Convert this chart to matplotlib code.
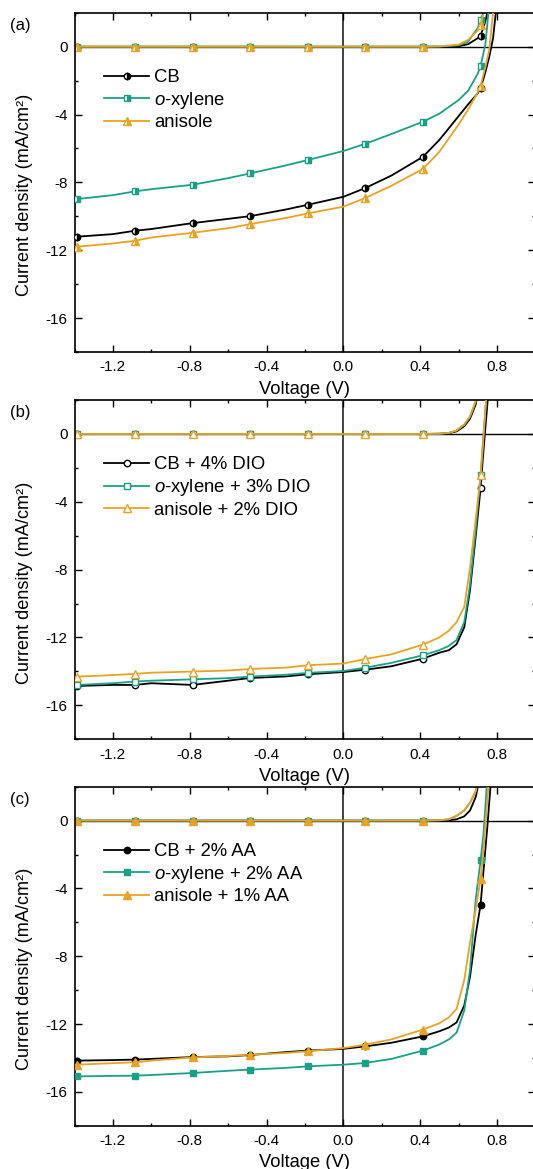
import matplotlib
matplotlib.use("Agg")
import matplotlib.pyplot as plt
from matplotlib.ticker import FixedLocator, MultipleLocator, FormatStrFormatter

plt.rcParams["font.family"] = ["Liberation Sans", "DejaVu Sans"]
plt.rcParams["axes.unicode_minus"] = False
plt.rcParams["mathtext.fontset"] = "custom"
plt.rcParams["mathtext.it"] = "Liberation Sans:italic"
plt.rcParams["mathtext.rm"] = "Liberation Sans"

BLACK = "#000000"
TEAL = "#19a087"
ORANGE = "#e8a224"

# voltage positions of the symbols on every curve
V_MARK = [-1.385, -1.085, -0.785, -0.485, -0.185, 0.115, 0.415, 0.715]

# ---- (a) pristine solvents ----
V_A = [-1.4, -1.385, -1.2, -1.085, -1.0, -0.785, -0.6, -0.485, -0.3, -0.185,
       0.0, 0.115, 0.25, 0.415, 0.5, 0.6, 0.65, 0.7, 0.715, 0.74, 0.76, 0.78, 0.8]
J_A_CB = [-11.2, -11.2, -11.05, -10.85, -10.75, -10.4, -10.15, -9.99, -9.6, -9.32,
          -8.85, -8.33, -7.6, -6.49, -5.5, -4.1, -3.4, -2.75, -2.45, -1.5, -0.6, 0.5, 2.6]
J_A_OX = [-9.0, -8.98, -8.75, -8.53, -8.4, -8.14, -7.75, -7.47, -7.0, -6.68,
          -6.15, -5.72, -5.15, -4.42, -3.95, -3.15, -2.6, -1.6, -1.14, 0.15, 2.5, 5.0, 7.0]
J_A_AN = [-11.8, -11.79, -11.6, -11.44, -11.25, -10.97, -10.7, -10.46, -10.1, -9.83,
          -9.43, -8.92, -8.2, -7.21, -6.2, -4.6, -3.7, -2.7, -2.32, -1.2, -0.2, 2.0, 4.0]
D_A_CB = [0.0, 0.0, 0.0, 0.0, 0.0, 0.0, 0.0, 0.0, 0.0, 0.0,
          0.0, 0.0, 0.0, 0.0, 0.0, 0.03, 0.15, 0.5, 0.65, 1.5, 2.5, 4.0, 6.0]
D_A_OX = [0.0, 0.0, 0.0, 0.0, 0.0, 0.0, 0.0, 0.0, 0.0, 0.0,
          0.0, 0.0, 0.0, 0.0, 0.01, 0.08, 0.3, 1.1, 1.6, 2.3, 4.0, 6.0, 8.0]
D_A_AN = [0.0, 0.0, 0.0, 0.0, 0.0, 0.0, 0.0, 0.0, 0.0, 0.0,
          0.0, 0.0, 0.0, 0.0, 0.02, 0.12, 0.4, 0.95, 1.3, 2.4, 4.0, 6.0, 8.0]

# ---- (b) with DIO ----
V_B = [-1.4, -1.385, -1.2, -1.085, -1.0, -0.785, -0.6, -0.485, -0.3, -0.185,
       0.0, 0.115, 0.25, 0.415, 0.5, 0.55, 0.59, 0.63, 0.66, 0.69, 0.715, 0.73, 0.75, 0.77]
J_B_CB = [-14.9, -14.86, -14.8, -14.8, -14.7, -14.8, -14.55, -14.39, -14.3, -14.17,
          -14.04, -13.9, -13.7, -13.25, -12.9, -12.75, -12.4, -11.4, -9.2, -6.0, -3.2, -1.0, 1.7, 4.5]
J_B_OX = [-14.85, -14.8, -14.7, -14.6, -14.55, -14.47, -14.4, -14.31, -14.2, -14.09,
          -13.98, -13.78, -13.5, -13.05, -12.75, -12.5, -12.15, -11.1, -8.9, -5.6, -2.45, -0.1, 3.0, 6.0]
J_B_AN = [-14.35, -14.31, -14.22, -14.15, -14.08, -14.01, -13.95, -13.86, -13.78, -13.64,
          -13.54, -13.27, -13.0, -12.42, -12.0, -11.6, -11.1, -10.2, -7.9, -5.0, -2.45, -0.2, 3.0, 6.0]
D_B_CB = [0.0, 0.0, 0.0, 0.0, 0.0, 0.0, 0.0, 0.0, 0.0, 0.0,
          0.0, 0.0, 0.0, 0.0, 0.01, 0.04, 0.15, 0.45, 0.9, 1.75, 3.4, 5.0, 7.0, 9.0]
D_B_OX = [0.0, 0.0, 0.0, 0.0, 0.0, 0.0, 0.0, 0.0, 0.0, 0.0,
          0.0, 0.0, 0.0, 0.0, 0.01, 0.06, 0.2, 0.55, 1.0, 1.9, 3.5, 5.0, 7.0, 9.0]
D_B_AN = [0.0, 0.0, 0.0, 0.0, 0.0, 0.0, 0.0, 0.0, 0.0, 0.0,
          0.0, 0.0, 0.0, 0.0, 0.01, 0.06, 0.2, 0.55, 1.05, 1.95, 3.5, 5.0, 7.0, 9.0]

# ---- (c) with AA ----
V_C = V_B
J_C_CB = [-14.2, -14.15, -14.12, -14.09, -14.05, -13.94, -13.9, -13.82, -13.65, -13.56,
          -13.46, -13.31, -13.1, -12.72, -12.42, -12.2, -11.9, -10.9, -9.2, -6.7, -4.95, -3.0, -0.4, 2.5]
J_C_OX = [-15.1, -15.08, -15.05, -15.04, -15.0, -14.88, -14.75, -14.68, -14.58, -14.49,
          -14.39, -14.29, -14.05, -13.56, -13.2, -12.9, -12.5, -11.2, -8.8, -4.6, -2.35, -0.8, 2.5, 6.0]
J_C_AN = [-14.4, -14.39, -14.3, -14.25, -14.15, -13.96, -13.88, -13.8, -13.7, -13.6,
          -13.41, -13.21, -12.9, -12.32, -11.95, -11.6, -11.1, -9.4, -7.2, -5.2, -3.45, -1.7, 1.2, 4.0]
D_C_CB = [0.0, 0.0, 0.0, 0.0, 0.0, 0.0, 0.0, 0.0, 0.0, 0.0,
          0.0, 0.0, 0.0, 0.0, 0.0, 0.02, 0.08, 0.25, 0.6, 1.4, 2.8, 4.5, 7.0, 9.0]
D_C_OX = [0.0, 0.0, 0.0, 0.0, 0.0, 0.0, 0.0, 0.0, 0.0, 0.0,
          0.0, 0.0, 0.0, 0.0, 0.02, 0.08, 0.28, 0.6, 1.05, 1.75, 3.0, 4.5, 7.0, 9.0]
D_C_AN = [0.0, 0.0, 0.0, 0.0, 0.0, 0.0, 0.0, 0.0, 0.0, 0.0,
          0.0, 0.0, 0.0, 0.0, 0.02, 0.08, 0.28, 0.6, 1.05, 1.75, 3.0, 4.5, 7.0, 9.0]

LABELS_A = ["CB", r"$\mathit{o}$-xylene", "anisole"]
LABELS_B = ["CB + 4% DIO", r"$\mathit{o}$-xylene + 3% DIO", "anisole + 2% DIO"]
LABELS_C = ["CB + 2% AA", r"$\mathit{o}$-xylene + 2% AA", "anisole + 1% AA"]

XTICKS = [-1.2, -0.8, -0.4, 0.0, 0.4, 0.8]
YTICKS = [-16, -12, -8, -4, 0]

fig = plt.figure(figsize=(5.33, 11.69), dpi=100)
W, H = 533.0, 1169.0
AX_H = 339.2


def panel(top_px, V, light, dark, labels, fill, tag):
    ax = fig.add_axes([74.5 / W, 1 - (top_px + AX_H) / H, 460.8 / W, AX_H / H])
    ax.axhline(0, color="black", lw=1.0, zorder=1)
    ax.axvline(0, color="#333333", lw=1.3, zorder=1)
    mk = [V.index(v) for v in V_MARK]
    styles = [("o", BLACK), ("s", TEAL), ("^", ORANGE)]
    for (m, c), Jl, Jd, lab in zip(styles, light, dark, labels):
        kw = dict(marker=m, color=c, lw=1.3, ms=4.6 if m != "^" else 5.6,
                  markevery=mk, markeredgewidth=1.0, markeredgecolor=c)
        if fill == "half":
            kw.update(fillstyle="right", markerfacecolor=c, markerfacecoloralt="white")
        elif fill == "open":
            kw.update(markerfacecolor="white")
        else:
            kw.update(markerfacecolor=c)
        ax.plot(V, Jd, zorder=2, **kw)
        ax.plot(V, Jl, zorder=3, label=lab, **kw)
    ax.set_xlim(-1.4, 1.0)
    ax.set_ylim(-18, 2)
    ax.xaxis.set_major_locator(FixedLocator(XTICKS))
    ax.xaxis.set_major_formatter(FormatStrFormatter("%.1f"))
    ax.xaxis.set_minor_locator(MultipleLocator(0.2))
    ax.yaxis.set_major_locator(FixedLocator(YTICKS))
    ax.yaxis.set_minor_locator(MultipleLocator(2))
    ax.tick_params(which="both", direction="in", top=True, right=True, width=1.0)
    ax.tick_params(which="major", length=5)
    ax.tick_params(which="minor", length=2.5)
    ax.tick_params(axis="x", labelsize=11, pad=6)
    ax.tick_params(axis="y", labelsize=11, pad=5)
    for s in ax.spines.values():
        s.set_linewidth(1.2)
    ax.set_xlabel("Voltage (V)", fontsize=13.2, labelpad=4.5)
    ax.set_ylabel("Current density (mA/cm²)", fontsize=13.1)
    ax.yaxis.set_label_coords(-0.09, 0.462)
    ax.legend(loc="upper left", bbox_to_anchor=(0.065, 0.834), frameon=False,
              fontsize=13.3, handlelength=2.4, handletextpad=0.3, labelspacing=0.2,
              borderaxespad=0, borderpad=0)
    fig.text(10 / W, 1 - (top_px + 12.5) / H, tag, fontsize=12, va="center")
    return ax


panel(12.8, V_A, [J_A_CB, J_A_OX, J_A_AN], [D_A_CB, D_A_OX, D_A_AN], LABELS_A, "half", "(a)")
panel(400.0, V_B, [J_B_CB, J_B_OX, J_B_AN], [D_B_CB, D_B_OX, D_B_AN], LABELS_B, "open", "(b)")
panel(786.7, V_C, [J_C_CB, J_C_OX, J_C_AN], [D_C_CB, D_C_OX, D_C_AN], LABELS_C, "fill", "(c)")

fig.savefig("out.png", dpi=100)
